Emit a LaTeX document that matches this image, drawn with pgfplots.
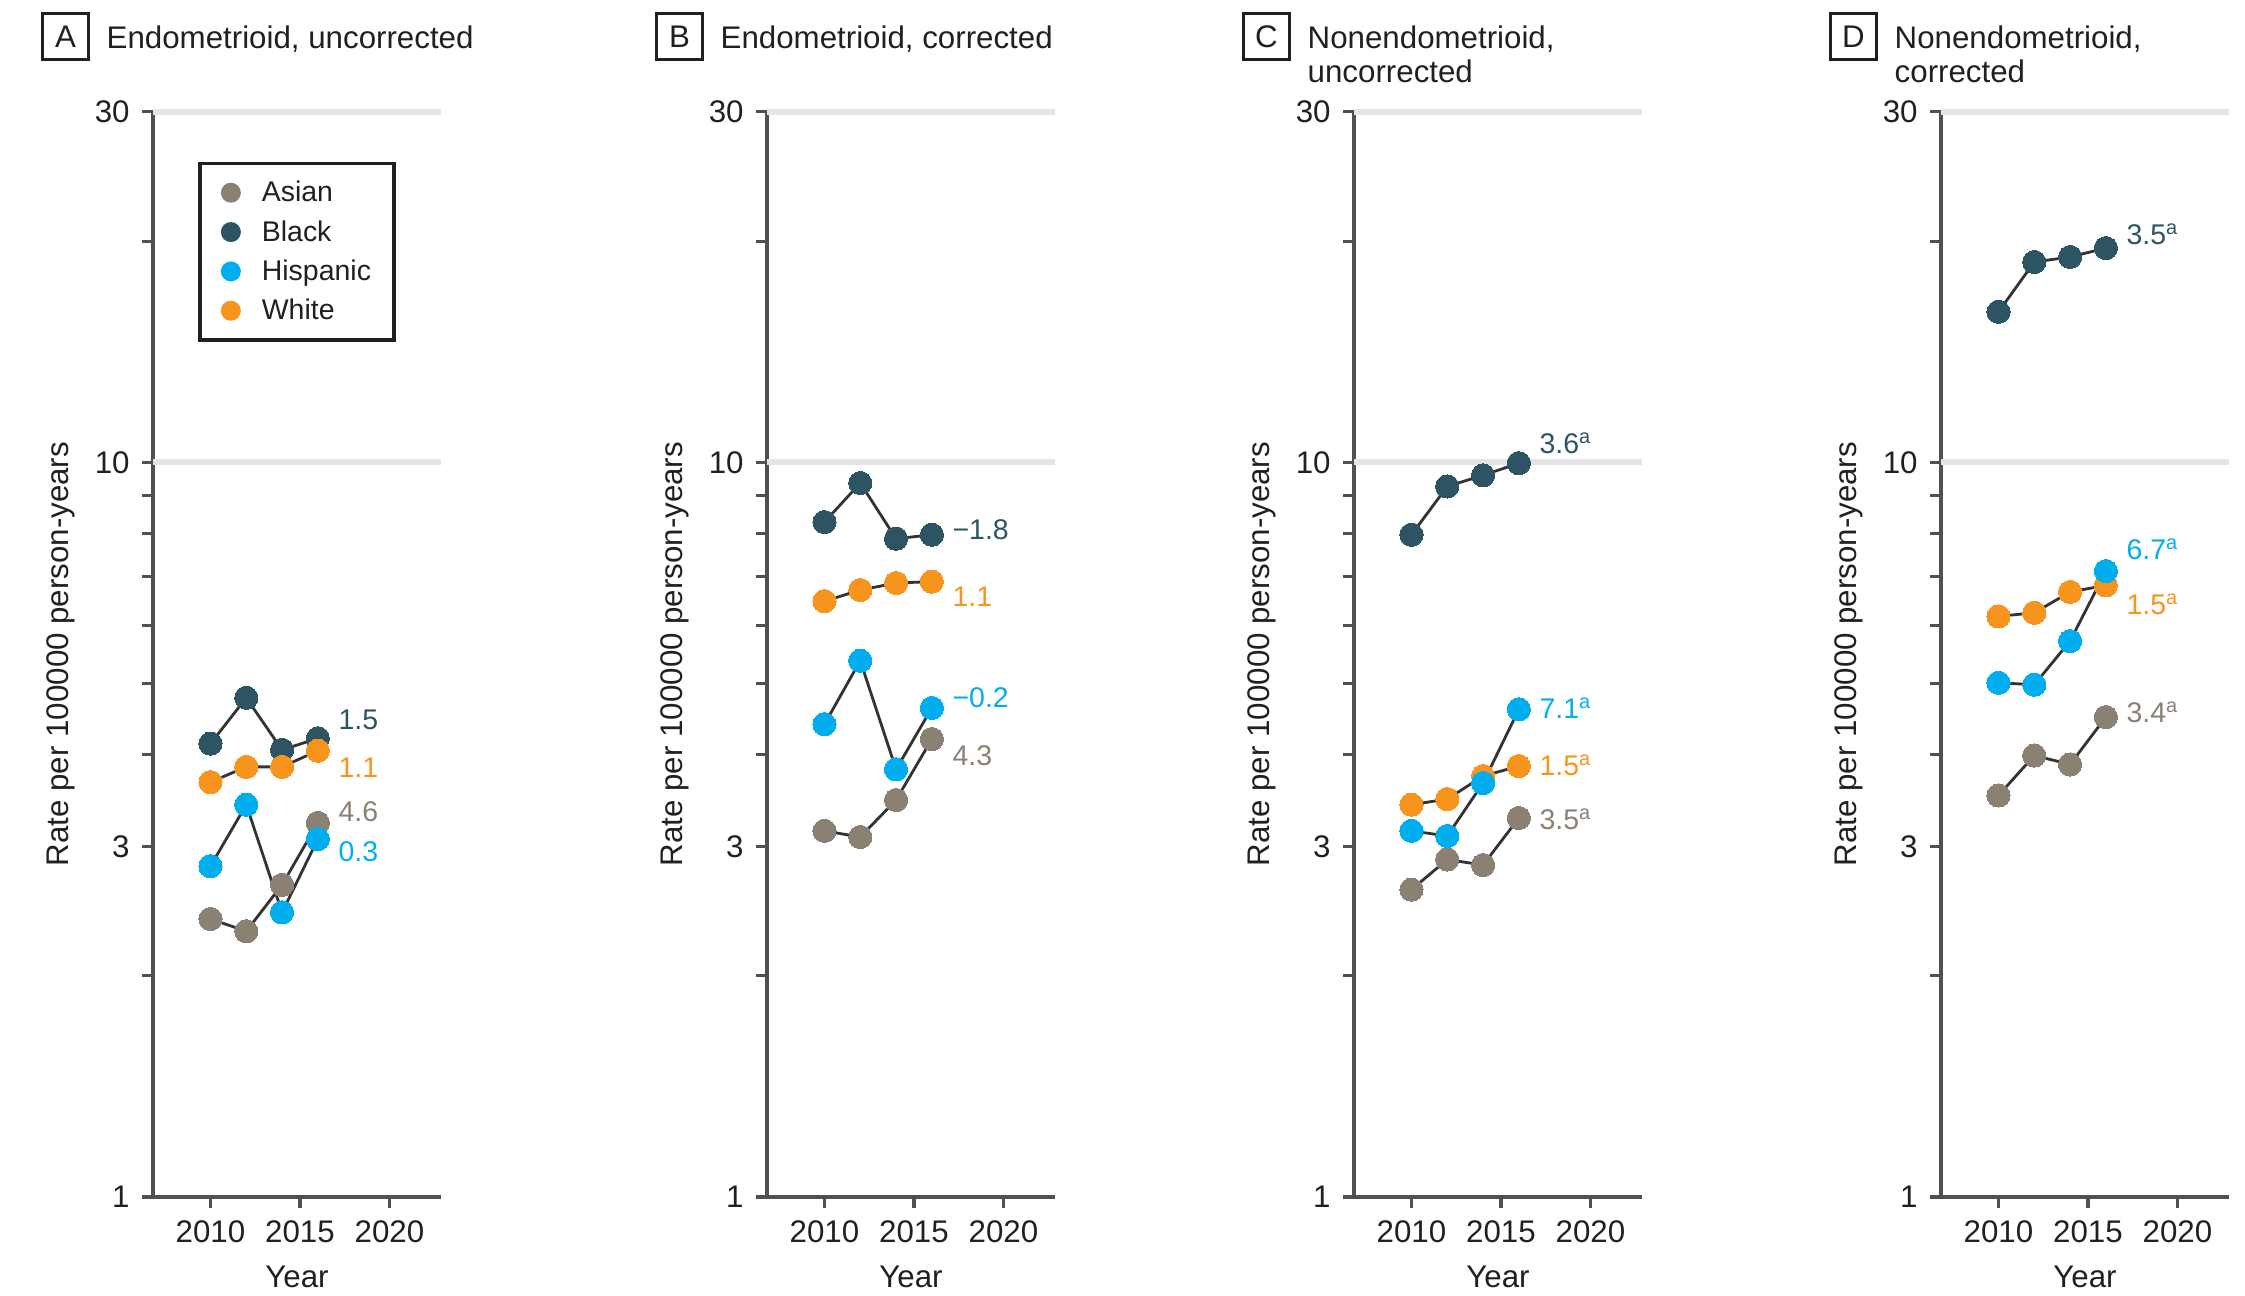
\documentclass[border=0pt]{standalone}
\usepackage{fontspec}
\setmainfont{Liberation Sans}
\usepackage{pgfplots}
\pgfplotsset{compat=1.18}

\definecolor{cAsian}{RGB}{139,129,115}
\definecolor{cBlack}{RGB}{44,84,98}
\definecolor{cHisp}{RGB}{0,174,239}
\definecolor{cWhite}{RGB}{247,148,30}
\definecolor{axgray}{RGB}{80,80,80}
\definecolor{gridc}{RGB}{228,228,230}
\definecolor{linec}{RGB}{51,51,51}
\definecolor{txt}{RGB}{35,31,32}

\newcommand\fT{\fontsize{8.9}{10}\selectfont}
\newcommand\fL{\fontsize{8.1}{9}\selectfont}

% shared settings of the four panels
\pgfplotsset{
  scale only axis, width=2.88cm, height=10.853cm,
  xmin=2006.79, xmax=2022.88,
  ymin=1, ymax=30,
  axis lines*=left,
  axis line style={line width=1pt, color=axgray},
  tick align=outside, tick pos=left,
  major tick length=0.11cm, minor tick length=0.11cm,
  every tick/.append style={line width=0.9pt, color=axgray},
  xtick={2010,2015,2020}, xticklabels={2010,2015,2020},
  ytick={1,3,10,30}, yticklabels={1,3,10,30},
  minor ytick={2,4,5,6,7,8,9,20},
  extra y ticks={10,30}, extra y tick labels={},
  extra y tick style={grid=major, major grid style={line width=1.6pt, color=gridc}},
  ticklabel style={font=\fT, text=txt},
  clip=false,
  rateser/.style={line width=0.8pt, color=linec, mark=*, mark size=3.3pt,
    mark options={draw=#1, line width=0pt, fill=#1}, forget plot},
}
\tikzset{
  vlabel/.style={anchor=west, xshift=0.2cm, inner sep=0pt, text height=0.72em,
    text depth=0pt, font=\fL, text=#1},
  pbox/.style={draw=txt, line width=1.1pt, minimum size=0.46cm, inner sep=0pt, font=\fT, text=txt},
  ptitle/.style={anchor=base west, inner sep=0pt, font=\fT, text=txt},
  ylab/.style={rotate=90, font=\fT, text=txt, inner sep=0pt},
  xlab/.style={font=\fT, text=txt, inner sep=0pt},
}

\begin{document}
\begin{tikzpicture}
\useasboundingbox (0,0) rectangle (22.45cm,12.96cm);

% A: endometrioid, uncorrected
\begin{axis}[ymode=log, anchor=south west, at={(1.53cm,0.99cm)},
  legend style={at={(0.156,0.954)}, anchor=north west, draw=txt, line width=1.1pt,
    fill=white, inner xsep=0.21cm, inner ysep=0.11cm, row sep=0.03cm,
    column sep=0.19cm, font=\fL, text=txt,
    nodes={inner sep=0.02cm, text height=0.72em, text depth=0.2em}},
  legend cell align=left,
  legend image code/.code={\path[#1, draw=none] (0cm,0cm) circle (0.1cm);}]
\addplot[rateser=cAsian] coordinates {(2010,2.39)(2012,2.30)(2014,2.66)(2016,3.23)};
\addplot[rateser=cBlack] coordinates {(2010,4.14)(2012,4.78)(2014,4.06)(2016,4.21)};
\addplot[rateser=cWhite] coordinates {(2010,3.67)(2012,3.85)(2014,3.85)(2016,4.05)};
\addplot[rateser=cHisp] coordinates {(2010,2.82)(2012,3.42)(2014,2.44)(2016,3.07)};
\addlegendimage{fill=cAsian}\addlegendentry{Asian}
\addlegendimage{fill=cBlack}\addlegendentry{Black}
\addlegendimage{fill=cHisp}\addlegendentry{Hispanic}
\addlegendimage{fill=cWhite}\addlegendentry{White}
\node[vlabel=cBlack] at (axis cs:2016,4.50) {1.5};
\node[vlabel=cWhite] at (axis cs:2016,3.87) {1.1};
\node[vlabel=cAsian] at (axis cs:2016,3.38) {4.6};
\node[vlabel=cHisp] at (axis cs:2016,2.98) {0.3};
\end{axis}

% B: endometrioid, corrected
\begin{axis}[ymode=log, anchor=south west, at={(7.67cm,0.99cm)}]
\addplot[rateser=cAsian] coordinates {(2010,3.15)(2012,3.09)(2014,3.47)(2016,4.20)};
\addplot[rateser=cBlack] coordinates {(2010,8.29)(2012,9.37)(2014,7.87)(2016,7.97)};
\addplot[rateser=cWhite] coordinates {(2010,6.47)(2012,6.70)(2014,6.85)(2016,6.88)};
\addplot[rateser=cHisp] coordinates {(2010,4.40)(2012,5.37)(2014,3.82)(2016,4.63)};
\node[vlabel=cBlack] at (axis cs:2016,8.18) {−1.8};
\node[vlabel=cWhite] at (axis cs:2016,6.63) {1.1};
\node[vlabel=cHisp] at (axis cs:2016,4.82) {−0.2};
\node[vlabel=cAsian] at (axis cs:2016,4.02) {4.3};
\end{axis}

% C: nonendometrioid, uncorrected
\begin{axis}[ymode=log, anchor=south west, at={(13.54cm,0.99cm)}]
\addplot[rateser=cAsian] coordinates {(2010,2.62)(2012,2.88)(2014,2.83)(2016,3.28)};
\addplot[rateser=cBlack] coordinates {(2010,7.97)(2012,9.27)(2014,9.60)(2016,9.97)};
\addplot[rateser=cWhite] coordinates {(2010,3.42)(2012,3.48)(2014,3.74)(2016,3.86)};
\addplot[rateser=cHisp] coordinates {(2010,3.15)(2012,3.10)(2014,3.66)(2016,4.61)};
\node[vlabel=cBlack] at (axis cs:2016,10.69) {3.6\textsuperscript{a}};
\node[vlabel=cHisp] at (axis cs:2016,4.66) {7.1\textsuperscript{a}};
\node[vlabel=cWhite] at (axis cs:2016,3.90) {1.5\textsuperscript{a}};
\node[vlabel=cAsian] at (axis cs:2016,3.29) {3.5\textsuperscript{a}};
\end{axis}

% D: nonendometrioid, corrected
\begin{axis}[ymode=log, anchor=south west, at={(19.41cm,0.99cm)}]
\addplot[rateser=cAsian] coordinates {(2010,3.52)(2012,3.99)(2014,3.88)(2016,4.50)};
\addplot[rateser=cBlack] coordinates {(2010,16.02)(2012,18.73)(2014,19.03)(2016,19.57)};
\addplot[rateser=cWhite] coordinates {(2010,6.17)(2012,6.24)(2014,6.66)(2016,6.80)};
\addplot[rateser=cHisp] coordinates {(2010,5.01)(2012,4.98)(2014,5.71)(2016,7.11)};
\node[vlabel=cBlack] at (axis cs:2016,20.57) {3.5\textsuperscript{a}};
\node[vlabel=cHisp] at (axis cs:2016,7.67) {6.7\textsuperscript{a}};
\node[vlabel=cWhite] at (axis cs:2016,6.46) {1.5\textsuperscript{a}};
\node[vlabel=cAsian] at (axis cs:2016,4.61) {3.4\textsuperscript{a}};
\end{axis}

% panel letters and titles
\node[pbox] at (0.655cm,12.595cm) {A};
\node[ptitle] at (1.06cm,12.47cm) {Endometrioid, uncorrected};
\node[pbox] at (6.795cm,12.595cm) {B};
\node[ptitle] at (7.20cm,12.47cm) {Endometrioid, corrected};
\node[pbox] at (12.665cm,12.595cm) {C};
\node[ptitle] at (13.07cm,12.47cm) {Nonendometrioid,};
\node[ptitle] at (13.07cm,12.13cm) {uncorrected};
\node[pbox] at (18.535cm,12.595cm) {D};
\node[ptitle] at (18.94cm,12.47cm) {Nonendometrioid,};
\node[ptitle] at (18.94cm,12.13cm) {corrected};

% axis labels
\foreach \xl in {0.61,6.75,12.62,18.49}
  \node[ylab] at (\xl cm,6.42cm) {Rate per 100000 person-years};
\foreach \xc in {2.97,9.11,14.98,20.85}
  \node[xlab] at (\xc cm,0.195cm) {Year};
\end{tikzpicture}
\end{document}
